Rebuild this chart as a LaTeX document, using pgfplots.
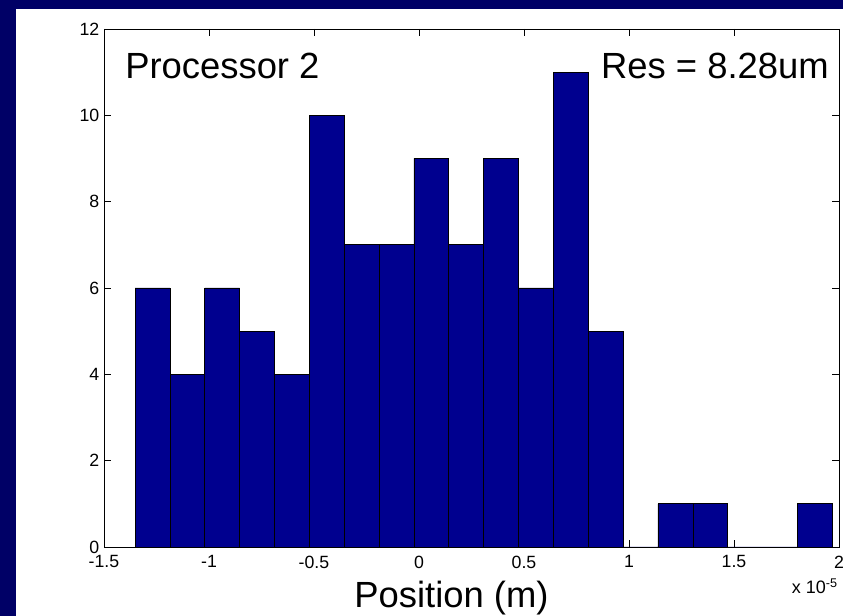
\documentclass[border=0pt]{standalone}
\usepackage{fontspec}
\setmainfont{Liberation Sans}
\usepackage{pgfplots}
\pgfplotsset{compat=1.18}

\definecolor{slidebg}{RGB}{0,0,102}
\definecolor{barblue}{RGB}{0,0,143}

% bin edges (x 1e-5 m) and counts; last count is a dummy for ybar interval
\pgfplotstableread{
edge count
-1.352 6
-1.186 4
-1.020 6
-0.854 5
-0.688 4
-0.522 10
-0.356 7
-0.190 7
-0.024 9
0.142 7
0.308 9
0.474 6
0.640 11
0.806 5
0.972 0
1.138 1
1.304 1
1.470 0
1.636 0
1.802 1
1.968 1
}\histdata

\begin{document}
\begin{tikzpicture}
% slide background, 843x616 px at 0.75pt/px
\useasboundingbox (0,0) rectangle (632.25pt,462pt);
\fill[slidebg] (0,0) rectangle (632.25pt,462pt);
\fill[white] (12pt,0) rectangle (632.25pt,455.25pt);

\begin{axis}[
    at={(78pt,51.75pt)}, anchor=south west,
    scale only axis,
    width=551.25pt, height=388.5pt,
    xmin=-1.5, xmax=2, ymin=0, ymax=12,
    xtick={-1.5,-1,-0.5,0,0.5,1,1.5,2},
    xticklabels={-1.5,-1,-0.5,0,0.5,1,1.5,2},
    ytick={0,2,4,6,8,10,12},
    yticklabels={0,2,4,6,8,10,12},
    tick align=inside, tick pos=both,
    major tick length=5.5pt,
    tick style={black, line width=0.5pt},
    axis line style={black, line width=0.6pt},
    tick label style={font=\fontsize{13.3}{15}\selectfont},
    xticklabel style={yshift=-3pt},
    xlabel={Position (m)},
    xlabel style={font=\fontsize{27.3}{30}\selectfont, at={(axis description cs:0.4728,0)}, anchor=base, yshift=-45.75pt},
]
\addplot[ybar interval, fill=barblue, draw=black, line width=0.5pt] table[x=edge, y=count] {\histdata};
\node[anchor=base west, inner sep=0, font=\fontsize{27.3}{30}\selectfont] at (rel axis cs:0.0286,0.9035) {Processor 2};
\node[anchor=base east, inner sep=0, font=\fontsize{27.3}{30}\selectfont] at (rel axis cs:0.9864,0.9035) {Res = 8.28um};
\end{axis}
\node[anchor=base east, inner sep=0, font=\fontsize{13.5}{15}\selectfont] at (628.5pt,16.5pt) {x 10\textsuperscript{-5}};
\end{tikzpicture}
\end{document}
